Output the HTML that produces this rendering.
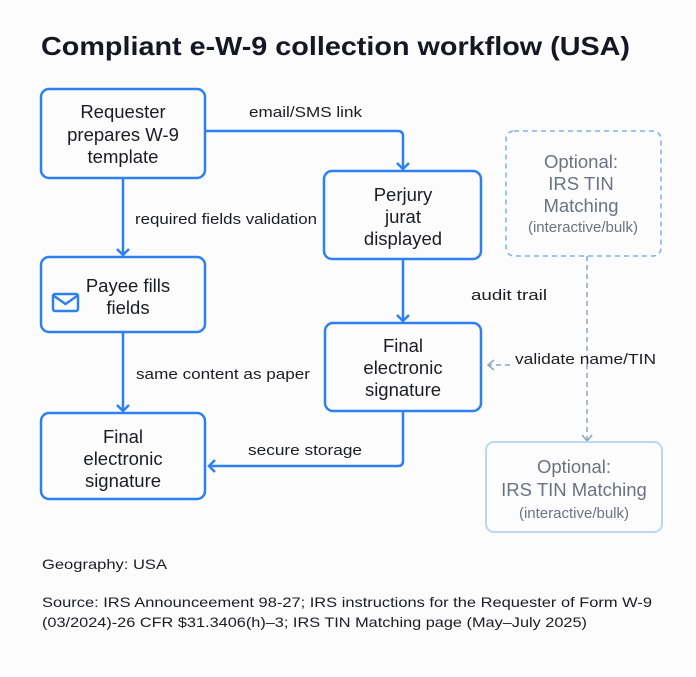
<!DOCTYPE html>
<html><head><meta charset="utf-8"><style>
html,body{margin:0;padding:0;background:#fcfcfc;}
svg{display:block;font-family:"Liberation Sans",sans-serif;}
</style></head><body>
<svg width="696" height="677" viewBox="0 0 696 677" xmlns="http://www.w3.org/2000/svg">
<rect width="696" height="677" fill="#fcfcfc"/>
<text x="41" y="55" font-size="26" font-weight="bold" fill="#151823" textLength="589" lengthAdjust="spacingAndGlyphs">Compliant e-W-9 collection workflow (USA)</text>
<g fill="none" stroke="#2f80ef" stroke-width="2.5">
<rect x="41" y="89" width="164" height="89" rx="8"/>
<rect x="41" y="257" width="164" height="75" rx="8"/>
<rect x="41" y="413" width="164" height="86" rx="8"/>
<rect x="324" y="171" width="157" height="88" rx="8"/>
<rect x="325" y="323" width="156" height="88" rx="8"/>
<path d="M205 131 H398 Q403 131 403 136 V169"/>
<path d="M397 163 L403 169 L409 163"/>
<path d="M123 178 V255"/>
<path d="M117 249 L123 255 L129 249"/>
<path d="M123 332 V411"/>
<path d="M117 405 L123 411 L129 405"/>
<path d="M403 259 V321"/>
<path d="M397 315 L403 321 L409 315"/>
<path d="M403 411 V461 Q403 466 398 466 H209"/>
<path d="M215 460 L209 466 L215 472"/>
<rect x="53" y="294" width="25" height="17" rx="2"/>
<path d="M54 296 L65.5 304 L77 296"/>
</g>
<g fill="none" stroke="#8aa4c4" stroke-width="1.5" stroke-dasharray="5,4">
<rect x="506" y="131" width="155" height="125" rx="8" stroke="#7fb0ec"/>
<path d="M587 256 V441"/>
<path d="M510 365 H489"/>
</g>
<g fill="none" stroke="#8aa4c4" stroke-width="1.5">
<path d="M582 435 L587 441 L592 435"/>
<path d="M494 360 L488 365 L494 370"/>
</g>
<rect x="486" y="442" width="176" height="90" rx="8" fill="none" stroke="#bcd6f6" stroke-width="2"/>
<g font-size="18.5" fill="#1b1d24" text-anchor="middle">
<text x="123" y="118">Requester</text>
<text x="123" y="141">prepares W-9</text>
<text x="123" y="163">template</text>
<text x="128" y="292">Payee fills</text>
<text x="128" y="314">fields</text>
<text x="123" y="443">Final</text>
<text x="123" y="465">electronic</text>
<text x="123" y="487">signature</text>
<text x="403" y="201">Perjury</text>
<text x="403" y="223">jurat</text>
<text x="403" y="245">displayed</text>
<text x="403" y="352">Final</text>
<text x="403" y="374">electronic</text>
<text x="403" y="396">signature</text>
</g>
<g font-size="18.5" fill="#6b7380" text-anchor="middle">
<text x="581" y="168">Optional:</text>
<text x="581" y="190">IRS TIN</text>
<text x="581" y="212">Matching</text>
<text x="574" y="473">Optional:</text>
<text x="574" y="496">IRS TIN Matching</text>
</g>
<g font-size="15" fill="#6b7380" text-anchor="middle">
<text x="583" y="232">(interactive/bulk)</text>
<text x="574" y="518">(interactive/bulk)</text>
</g>
<g font-size="15" fill="#1b1d24">
<text x="249" y="117" textLength="113" lengthAdjust="spacingAndGlyphs">email/SMS link</text>
<text x="135" y="224" textLength="182" lengthAdjust="spacingAndGlyphs">required fields validation</text>
<text x="136" y="379" textLength="174" lengthAdjust="spacingAndGlyphs">same content as paper</text>
<text x="471" y="300" textLength="76" lengthAdjust="spacingAndGlyphs">audit trail</text>
<text x="515" y="364" textLength="141" lengthAdjust="spacingAndGlyphs">validate name/TIN</text>
<text x="248" y="455" textLength="114" lengthAdjust="spacingAndGlyphs">secure storage</text>
</g>
<g font-size="14" fill="#1b1d24">
<text x="42" y="569" textLength="125" lengthAdjust="spacingAndGlyphs">Geography: USA</text>
<text x="42" y="607" textLength="610" lengthAdjust="spacingAndGlyphs">Source:  IRS Announceement 98-27; IRS instructions for the Requester of Form W-9</text>
<text x="42" y="627" textLength="545" lengthAdjust="spacingAndGlyphs">(03/2024)-26 CFR $31.3406(h)–3; IRS TIN Matching page (May–July 2025)</text>
</g>
</svg>
</body></html>
